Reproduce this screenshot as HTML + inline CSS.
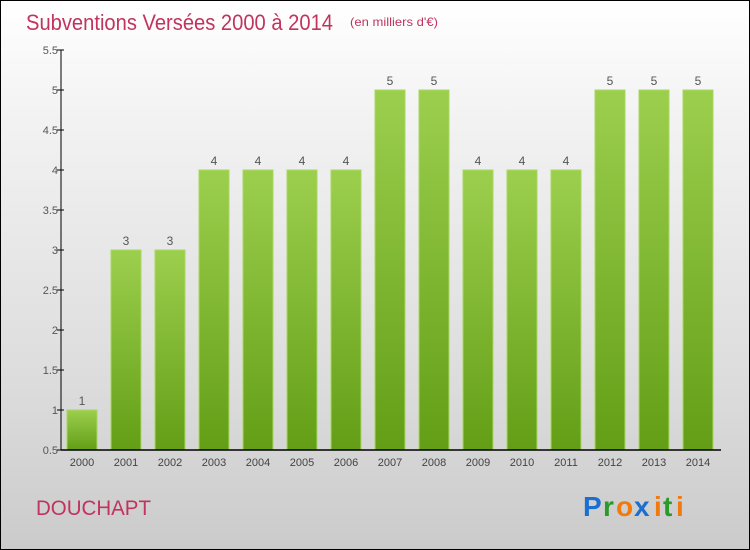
<!DOCTYPE html>
<html><head><meta charset="utf-8"><style>
html,body{margin:0;padding:0}
body{width:750px;height:550px;overflow:hidden;font-family:"Liberation Sans",sans-serif}
#wrap{position:absolute;left:0;top:0;width:748px;height:548px;border:1px solid #000;background:linear-gradient(#fff,#f3f3f3 20%,#dcdcdc 70%,#cbcbcb)}
</style></head><body>
<div id="wrap">
<svg width="750" height="550" style="position:absolute;left:-1px;top:-1px">
<defs><linearGradient id="bg" x1="0" y1="0" x2="0" y2="1"><stop offset="0" stop-color="#9ccf4e"/><stop offset="1" stop-color="#639e16"/></linearGradient></defs>
<text x="26" y="30" font-size="22" fill="#c0345f" textLength="307" lengthAdjust="spacingAndGlyphs">Subventions Versées 2000 à 2014</text>
<text x="350" y="26" font-size="12" fill="#c0345f" textLength="88" lengthAdjust="spacingAndGlyphs">(en milliers d'€)</text>
<g id="plot"></g>
<text x="36" y="515" font-size="21" fill="#c0345f" textLength="115" lengthAdjust="spacingAndGlyphs">DOUCHAPT</text>
<g font-size="28" font-weight="bold">
<text x="583" y="516" fill="#1a6fd0">P</text><text x="603" y="516" fill="#2a9a2a">r</text><text x="616" y="516" fill="#f07a10">o</text><text x="634" y="516" fill="#1a6fd0">x</text><text x="654" y="516" fill="#f07a10">i</text><text x="663" y="516" fill="#2a9a2a">t</text><text x="676" y="516" fill="#f07a10">i</text>
</g>
</svg></div>
<script>
const years=["2000","2001","2002","2003","2004","2005","2006","2007","2008","2009","2010","2011","2012","2013","2014"];
const values=[1,3,3,4,4,4,4,5,5,4,4,4,5,5,5];
const yTicks=["0.5","1","1.5","2","2.5","3","3.5","4","4.5","5","5.5"];
const NS="http://www.w3.org/2000/svg";
const g=document.getElementById('plot');
const yMin=0.5,yMax=5.5,plotTop=50,plotBot=450,plotLeft=61,plotRight=721;
const yScale=v=>plotBot-(v-yMin)/(yMax-yMin)*(plotBot-plotTop);
const step=(plotRight-plotLeft)/years.length;
const xc=i=>plotLeft+21+i*step;
function el(t,a){const e=document.createElementNS(NS,t);for(const k in a)e.setAttribute(k,a[k]);g.appendChild(e);return e;}
yTicks.forEach(t=>{const v=parseFloat(t);
 const l=el('line',{x1:plotLeft-4,x2:plotLeft+3,y1:yScale(v),y2:yScale(v),stroke:'#000'});
 
 
 const tx=el('text',{x:plotLeft-3,y:yScale(v)+4,'font-size':11,fill:'#555','text-anchor':'end'});tx.textContent=t;
 
 
});
values.forEach((v,i)=>{
 const r=el('rect',{x:xc(i)-15,y:yScale(v),width:30,height:plotBot-yScale(v),fill:'url(#bg)',stroke:'#a8d860','stroke-width':1});
 
 
 const t=el('text',{x:xc(i),y:yScale(v)-5,'font-size':12,fill:'#555','text-anchor':'middle'});t.textContent=v;
 
 
 const xl=el('text',{x:xc(i),y:plotBot+16,'font-size':11,fill:'#444','text-anchor':'middle'});xl.textContent=years[i];
 
 
});
const ya=el('line',{x1:plotLeft,x2:plotLeft,y1:plotTop,y2:plotBot,stroke:'#000'});


const xa=el('line',{x1:plotLeft,x2:plotRight,y1:plotBot,y2:plotBot,stroke:'#000','stroke-width':1.5});


</script>
</body></html>
